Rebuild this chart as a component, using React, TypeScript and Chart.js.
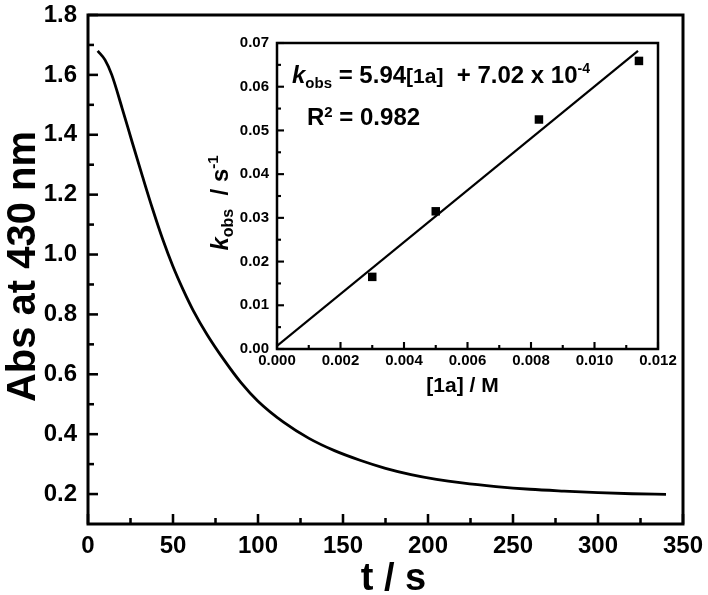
import { useEffect, useRef } from 'react';
import { Chart, registerables } from 'chart.js';

Chart.register(...registerables);

// ---- main decay curve ----
const timeS = [5.7, 10, 14, 20, 26, 32, 38, 44, 50, 56, 62, 70, 80, 90, 100, 115, 130, 145, 160, 175, 190, 205, 220, 240, 260, 280, 300, 320, 340];
const absorbance = [1.68, 1.65, 1.6, 1.49, 1.375, 1.262, 1.152, 1.05, 0.96, 0.882, 0.812, 0.733, 0.648, 0.572, 0.51, 0.44, 0.386, 0.345, 0.313, 0.286, 0.265, 0.249, 0.237, 0.225, 0.216, 0.21, 0.205, 0.201, 0.199];
const mainXTicks = [0, 50, 100, 150, 200, 250, 300, 350];
const mainXMinor = [25, 75, 125, 175, 225, 275, 325];
const mainYTicks = [0.2, 0.4, 0.6, 0.8, 1.0, 1.2, 1.4, 1.6, 1.8];
const mainYMinor = [0.3, 0.5, 0.7, 0.9, 1.1, 1.3, 1.5, 1.7];

// ---- inset ----
const conc = [0.003, 0.005, 0.00825, 0.0114];
const kObs = [0.0165, 0.0315, 0.0525, 0.0659];
const fitX = [0, 0.01137];
const fitY = [0.0007, 0.0682];
const insetXTicks = [0, 0.002, 0.004, 0.006, 0.008, 0.01, 0.012];
const insetXMinor = [0.001, 0.003, 0.005, 0.007, 0.009, 0.011];
const insetYTicks = [0, 0.01, 0.02, 0.03, 0.04, 0.05, 0.06, 0.07];
const insetYMinor = [0.005, 0.015, 0.025, 0.035, 0.045, 0.055, 0.065];

const FONT = "'Liberation Sans', Arial, sans-serif";

type Seg = { text: string; font: string; dy?: number };

function segWidth(ctx: CanvasRenderingContext2D, segs: Seg[]) {
  let w = 0;
  for (const s of segs) {
    ctx.font = s.font;
    w += ctx.measureText(s.text).width;
  }
  return w;
}
function drawSegs(ctx: CanvasRenderingContext2D, segs: Seg[], x: number, y: number) {
  let cx = x;
  for (const s of segs) {
    ctx.font = s.font;
    ctx.fillText(s.text, cx, y + (s.dy || 0));
    cx += ctx.measureText(s.text).width;
  }
}

function framePlugin(id: string, lw: number, major: number, minor: number, xMaj: number[], xMin: number[], yMaj: number[], yMin: number[]) {
  return {
    id,
    afterDraw(chart: any) {
      const { ctx, chartArea: a, scales } = chart;
      ctx.save();
      ctx.strokeStyle = '#000';
      ctx.lineWidth = lw;
      ctx.lineCap = 'butt';
      ctx.strokeRect(a.left, a.top, a.right - a.left, a.bottom - a.top);
      ctx.lineWidth = lw * 0.85;
      const xs = scales.x;
      const ys = scales.y;
      const tickX = (v: number, len: number) => {
        const p = xs.getPixelForValue(v);
        ctx.beginPath();
        ctx.moveTo(p, a.bottom);
        ctx.lineTo(p, a.bottom - len);
        ctx.stroke();
      };
      const tickY = (v: number, len: number) => {
        const p = ys.getPixelForValue(v);
        ctx.beginPath();
        ctx.moveTo(a.left, p);
        ctx.lineTo(a.left + len, p);
        ctx.stroke();
      };
      xMaj.forEach((v) => tickX(v, major));
      xMin.forEach((v) => tickX(v, minor));
      yMaj.forEach((v) => tickY(v, major));
      yMin.forEach((v) => tickY(v, minor));
      ctx.restore();
    },
  };
}

const mainTitles = {
  id: 'mainTitles',
  afterDraw(chart: any) {
    const { ctx, chartArea: a } = chart;
    ctx.save();
    ctx.fillStyle = '#000';
    ctx.textAlign = 'center';
    ctx.textBaseline = 'alphabetic';
    ctx.font = `bold 38px ${FONT}`;
    ctx.fillText('t / s', (a.left + a.right) / 2 + 8, 590);
    ctx.translate(35, (a.top + a.bottom) / 2 - 3);
    ctx.rotate(-Math.PI / 2);
    ctx.font = `bold 40px ${FONT}`;
    ctx.fillText('Abs at 430 nm', 0, 0);
    ctx.restore();
  },
};

const insetTexts = {
  id: 'insetTexts',
  afterDraw(chart: any) {
    const { ctx, chartArea: a } = chart;
    ctx.save();
    ctx.fillStyle = '#000';
    ctx.textAlign = 'left';
    ctx.textBaseline = 'alphabetic';
    const eq: Seg[] = [
      { text: 'k', font: `italic bold 24px ${FONT}` },
      { text: 'obs', font: `bold 15px ${FONT}`, dy: 5 },
      { text: ' = 5.94', font: `bold 24px ${FONT}` },
      { text: '[1a]', font: `bold 21px ${FONT}` },
      { text: '  + 7.02 x 10', font: `bold 24px ${FONT}` },
      { text: '-4', font: `bold 14px ${FONT}`, dy: -10 },
    ];
    drawSegs(ctx, eq, a.left + 15, a.top + 40);
    const r2: Seg[] = [
      { text: 'R', font: `bold 24px ${FONT}` },
      { text: '2', font: `bold 15px ${FONT}`, dy: -8 },
      { text: ' = 0.982', font: `bold 24px ${FONT}` },
    ];
    drawSegs(ctx, r2, a.left + 30, a.top + 82);
    // x title
    ctx.textAlign = 'center';
    ctx.font = `bold 21px ${FONT}`;
    ctx.fillText('[1a] / M', (a.left + a.right) / 2 - 5, a.bottom + 43);
    // y title rotated
    ctx.textAlign = 'left';
    const yt: Seg[] = [
      { text: 'k', font: `italic bold 24px ${FONT}` },
      { text: 'obs', font: `bold 16px ${FONT}`, dy: 5 },
      { text: '  / s', font: `bold 24px ${FONT}` },
      { text: '-1', font: `bold 15px ${FONT}`, dy: -10 },
    ];
    ctx.translate(a.left - 49, (a.top + a.bottom) / 2 + 7);
    ctx.rotate(-Math.PI / 2);
    const w = segWidth(ctx, yt);
    drawSegs(ctx, yt, -w / 2, 0);
    ctx.restore();
  },
};

export default function App() {
  const mainRef = useRef<HTMLCanvasElement>(null);
  const insetRef = useRef<HTMLCanvasElement>(null);

  useEffect(() => {
    const tickFont = { family: FONT, size: 24, weight: 'bold' as const };
    const main = new Chart(mainRef.current!, {
      type: 'line',
      data: {
        datasets: [
          {
            data: timeS.map((t, i) => ({ x: t, y: absorbance[i] })),
            borderColor: '#000',
            borderWidth: 2.8,
            pointRadius: 0,
            tension: 0.4,
            cubicInterpolationMode: 'monotone',
            fill: false,
          },
        ],
      },
      options: {
        animation: false,
        responsive: false,
        events: [],
        layout: { padding: { left: 0, top: 15, right: 25, bottom: 0 } },
        plugins: { legend: { display: false }, tooltip: { enabled: false } },
        scales: {
          x: {
            type: 'linear',
            min: 0,
            max: 350,
            afterBuildTicks: (s: any) => {
              s.ticks = mainXTicks.map((v) => ({ value: v }));
            },
            afterFit: (s: any) => {
              s.height = 71;
              s.paddingLeft = 0;
              s.paddingRight = 0;
            },
            grid: { display: false, drawTicks: false },
            border: { display: false },
            ticks: {
              font: tickFont,
              color: '#000',
              padding: 8,
              maxRotation: 0,
              autoSkip: false,
              callback: (v: any) => String(v),
            },
          },
          y: {
            type: 'linear',
            min: 0.1,
            max: 1.8,
            afterBuildTicks: (s: any) => {
              s.ticks = mainYTicks.map((v) => ({ value: v }));
            },
            afterFit: (s: any) => {
              s.width = 88;
              s.paddingTop = 0;
              s.paddingBottom = 0;
            },
            grid: { display: false, drawTicks: false },
            border: { display: false },
            ticks: {
              font: tickFont,
              color: '#000',
              padding: 11,
              autoSkip: false,
              callback: (v: any) => Number(v).toFixed(1),
            },
          },
        },
      },
      plugins: [framePlugin('mainFrame', 3, 10, 6, mainXTicks, mainXMinor, mainYTicks, mainYMinor), mainTitles],
    } as any);

    const insetFont = { family: FONT, size: 15, weight: 'bold' as const };
    const inset = new Chart(insetRef.current!, {
      type: 'scatter',
      data: {
        datasets: [
          {
            type: 'line',
            data: fitX.map((x, i) => ({ x, y: fitY[i] })),
            borderColor: '#000',
            borderWidth: 2.2,
            pointRadius: 0,
            fill: false,
          },
          {
            type: 'scatter',
            data: conc.map((x, i) => ({ x, y: kObs[i] })),
            backgroundColor: '#000',
            borderColor: '#000',
            pointStyle: 'rect',
            pointRadius: 6,
            borderWidth: 0,
          },
        ],
      },
      options: {
        animation: false,
        responsive: false,
        events: [],
        layout: { padding: { left: 0, top: 13, right: 24, bottom: 0 } },
        plugins: { legend: { display: false }, tooltip: { enabled: false } },
        scales: {
          x: {
            type: 'linear',
            min: 0,
            max: 0.012,
            afterBuildTicks: (s: any) => {
              s.ticks = insetXTicks.map((v) => ({ value: v }));
            },
            afterFit: (s: any) => {
              s.height = 53;
              s.paddingLeft = 0;
              s.paddingRight = 0;
            },
            grid: { display: false, drawTicks: false },
            border: { display: false },
            ticks: {
              font: insetFont,
              color: '#000',
              padding: 3,
              maxRotation: 0,
              autoSkip: false,
              callback: (v: any) => Number(v).toFixed(3),
            },
          },
          y: {
            type: 'linear',
            min: 0,
            max: 0.07,
            afterBuildTicks: (s: any) => {
              s.ticks = insetYTicks.map((v) => ({ value: v }));
            },
            afterFit: (s: any) => {
              s.width = 87;
              s.paddingTop = 0;
              s.paddingBottom = 0;
            },
            grid: { display: false, drawTicks: false },
            border: { display: false },
            ticks: {
              font: insetFont,
              color: '#000',
              padding: 8,
              autoSkip: false,
              callback: (v: any) => Number(v).toFixed(2),
            },
          },
        },
      },
      plugins: [framePlugin('insetFrame', 2.5, 7, 4, insetXTicks, insetXMinor, insetYTicks, insetYMinor), insetTexts],
    } as any);

    return () => {
      main.destroy();
      inset.destroy();
    };
  }, []);

  return (
    <div style={{ position: 'fixed', left: 0, top: 0, width: 708, height: 595, background: '#fff' }}>
      <canvas ref={mainRef} width={708} height={595} style={{ position: 'absolute', left: 0, top: 0, width: 708, height: 595 }} />
      <canvas ref={insetRef} width={492} height={372} style={{ position: 'absolute', left: 190, top: 30, width: 492, height: 372 }} />
    </div>
  );
}
